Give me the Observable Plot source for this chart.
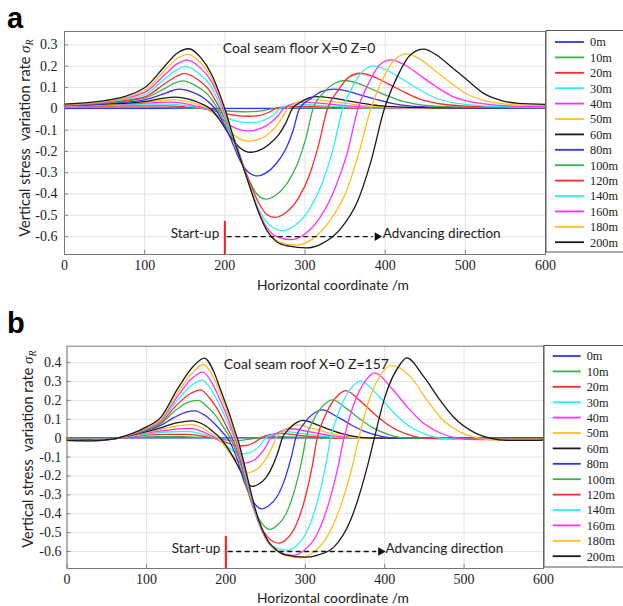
<!DOCTYPE html>
<html><head><meta charset="utf-8">
<script src="https://cdn.jsdelivr.net/npm/d3@7"></script>
<script src="https://cdn.jsdelivr.net/npm/@observablehq/plot@0.6"></script>
<style>
body{margin:0;background:#fff;}
#wrap{position:relative;width:623px;height:606px;overflow:hidden;background:#fff;}
#wrap svg{position:absolute;left:0;}
</style></head>
<body><div id="wrap"></div>
<script>
const series = ["0m","10m","20m","30m","40m","50m","60m","80m","100m","120m","140m","160m","180m","200m"];
const colors = ["#3030ff","#3cb04a","#ff2a2a","#2ff0f0","#ff30ff","#ffbe22","#1a1a1a","#3030ff","#3cb04a","#ff2a2a","#2ff0f0","#ff30ff","#ffbe22","#1a1a1a"];
const xTicks = [0,100,200,300,400,500,600];
const yTicksA = [0.3,0.2,0.1,0,-0.1,-0.2,-0.3,-0.4,-0.5,-0.6];
const yTicksB = [0.4,0.3,0.2,0.1,0,-0.1,-0.2,-0.3,-0.4,-0.5,-0.6];

// Panel a: coal seam floor (x in m, variation rate)
const a_0m = [[0,0.002],[300,0.002],[600,0.002]];
const a_10m = [[0,0.008],[50,0.008],[100,0.007],[120,0.007],[150,0.005],[178,0],[200,-0.009],[228,-0.014],[245,-0.01],[258,0],[275,0.004],[300,0.004],[350,0.003],[600,0.002]];
const a_20m = [[0,0.011],[50,0.013],[100,0.014],[125,0.014],[150,0.009],[175,0],[195,-0.018],[213,-0.031],[231,-0.035],[242,-0.032],[251,-0.022],[258,-0.01],[262,0],[270,0.007],[280,0.012],[300,0.011],[330,0.008],[370,0.005],[600,0.002]];
const a_30m = [[0,0.012],[50,0.016],[100,0.022],[130,0.022],[150,0.016],[165,0.008],[176,0],[195,-0.03],[212,-0.056],[230,-0.065],[240,-0.062],[250,-0.052],[258,-0.036],[264,-0.018],[268,0],[275,0.011],[281,0.018],[287,0.021],[305,0.019],[325,0.014],[350,0.009],[380,0.005],[600,0.003]];
const a_40m = [[0,0.013],[50,0.018],[100,0.027],[120,0.03],[133,0.031],[150,0.024],[165,0.012],[178,0],[195,-0.045],[210,-0.085],[229,-0.104],[238,-0.1],[249,-0.085],[258,-0.062],[266,-0.034],[273,0],[281,0.017],[288,0.027],[296,0.031],[313,0.028],[330,0.022],[350,0.015],[372,0.009],[400,0.005],[600,0.003]];
const a_50m = [[0,0.014],[50,0.02],[100,0.031],[120,0.039],[137,0.043],[155,0.033],[168,0.018],[180,0],[195,-0.055],[208,-0.11],[218,-0.14],[230,-0.152],[240,-0.146],[252,-0.125],[262,-0.091],[270,-0.05],[278,0],[287,0.024],[296,0.039],[305,0.044],[322,0.04],[340,0.031],[360,0.021],[382,0.012],[405,0.007],[450,0.004],[600,0.003]];
const a_60m = [[0,0.015],[50,0.022],[100,0.034],[120,0.048],[139,0.055],[155,0.045],[170,0.025],[182,0],[195,-0.06],[205,-0.12],[218,-0.18],[232,-0.204],[242,-0.196],[255,-0.167],[267,-0.122],[276,-0.067],[284,0],[295,0.032],[305,0.051],[316,0.057],[333,0.051],[350,0.04],[370,0.027],[392,0.015],[415,0.009],[460,0.005],[530,0.003],[600,0.003]];
const a_80m = [[0,0.016],[50,0.025],[100,0.042],[122,0.068],[135,0.086],[143,0.092],[160,0.077],[174,0.05],[185,0.013],[188,0],[205,-0.12],[220,-0.25],[232,-0.305],[241,-0.315],[251,-0.302],[264,-0.258],[276,-0.189],[285,-0.104],[293,0],[308,0.05],[322,0.083],[337,0.092],[353,0.083],[370,0.064],[390,0.043],[410,0.024],[430,0.014],[470,0.007],[530,0.004],[600,0.003]];
const a_100m = [[0,0.017],[50,0.027],[100,0.05],[125,0.095],[138,0.122],[147,0.131],[164,0.108],[178,0.07],[188,0.02],[191,0],[210,-0.14],[226,-0.3],[240,-0.4],[251,-0.424],[263,-0.407],[278,-0.348],[291,-0.254],[301,-0.14],[310,0],[323,0.075],[337,0.12],[350,0.133],[366,0.12],[383,0.093],[402,0.062],[422,0.035],[443,0.02],[480,0.01],[540,0.006],[600,0.005]];
const a_120m = [[0,0.018],[50,0.029],[100,0.056],[125,0.118],[140,0.153],[149,0.166],[166,0.138],[180,0.09],[190,0.028],[194,0],[212,-0.145],[228,-0.315],[242,-0.44],[252,-0.495],[262,-0.51],[275,-0.49],[292,-0.418],[306,-0.306],[317,-0.168],[328,0],[342,0.09],[355,0.15],[369,0.167],[386,0.15],[404,0.117],[424,0.078],[445,0.043],[466,0.025],[500,0.013],[550,0.008],[600,0.006]];
const a_140m = [[0,0.019],[50,0.031],[100,0.066],[125,0.14],[140,0.183],[151,0.199],[168,0.165],[182,0.11],[192,0.035],[196,0],[212,-0.148],[228,-0.325],[241,-0.46],[254,-0.54],[272,-0.572],[287,-0.549],[306,-0.469],[322,-0.343],[335,-0.189],[347,0],[360,0.108],[373,0.18],[386,0.2],[403,0.18],[421,0.14],[441,0.094],[462,0.052],[483,0.03],[510,0.017],[550,0.01],[600,0.008]];
const a_160m = [[0,0.02],[50,0.033],[100,0.077],[125,0.16],[140,0.21],[153,0.229],[170,0.19],[183,0.13],[194,0.04],[198,0],[212,-0.15],[228,-0.33],[241,-0.47],[253,-0.56],[265,-0.6],[282,-0.614],[299,-0.59],[320,-0.503],[338,-0.368],[353,-0.203],[366,0],[380,0.125],[393,0.206],[407,0.23],[424,0.207],[442,0.161],[462,0.108],[483,0.06],[504,0.035],[530,0.02],[560,0.013],[600,0.011]];
const a_180m = [[0,0.021],[50,0.035],[100,0.086],[125,0.18],[140,0.235],[154,0.256],[170,0.215],[183,0.148],[195,0.045],[199,0],[212,-0.15],[228,-0.33],[241,-0.472],[253,-0.57],[265,-0.62],[278,-0.637],[290,-0.64],[308,-0.614],[331,-0.525],[352,-0.384],[367,-0.21],[382,0],[397,0.14],[412,0.232],[427,0.258],[444,0.232],[462,0.18],[482,0.121],[503,0.067],[524,0.039],[545,0.025],[570,0.018],[600,0.016]];
const a_200m = [[0,0.022],[50,0.038],[100,0.099],[125,0.2],[140,0.26],[155,0.282],[170,0.24],[183,0.165],[195,0.055],[200,0],[212,-0.15],[228,-0.33],[241,-0.475],[253,-0.575],[265,-0.625],[280,-0.645],[301,-0.653],[320,-0.635],[345,-0.56],[366,-0.43],[382,-0.25],[399,0],[415,0.15],[432,0.255],[448,0.28],[465,0.25],[483,0.195],[503,0.133],[524,0.07],[545,0.039],[566,0.026],[600,0.021]];

// Panel b: coal seam roof
const b_0m = [[0,0.002],[300,0.002],[600,0.002]];
const b_10m = [[0,-0.004],[30,-0.005],[60,-0.001],[80,0.003],[100,0.007],[145,0.008],[180,0],[195,-0.007],[210,-0.013],[225,-0.008],[238,0],[250,0.007],[260,0.01],[280,0.007],[300,0.004],[330,0.001],[600,0]];
const b_20m = [[0,-0.005],[30,-0.006],[60,-0.001],[80,0.007],[100,0.016],[125,0.02],[150,0.02],[166,0.014],[185,0],[200,-0.022],[216,-0.042],[222,-0.04],[228.6,-0.035],[235.6,-0.023],[240.6,-0.01],[244,0],[251,0.013],[262,0.023],[268,0.025],[285,0.019],[302,0.011],[320,0.005],[345,0.001],[600,0]];
const b_30m = [[0,-0.006],[30,-0.007],[60,-0.001],[80,0.009],[100,0.022],[118,0.03],[135,0.034],[152,0.036],[168,0.024],[180,0.008],[186,0],[198,-0.03],[210,-0.07],[220.6,-0.083],[226.5,-0.08],[233.8,-0.069],[241.2,-0.046],[246.5,-0.021],[250,0],[257.5,0.017],[268.8,0.032],[275,0.035],[292,0.027],[310,0.016],[325,0.009],[345,0.003],[365,0],[600,0]];
const b_40m = [[0,-0.006],[30,-0.008],[60,-0.002],[80,0.011],[100,0.027],[118,0.038],[135,0.047],[155,0.052],[170,0.036],[182,0.012],[188,0],[200,-0.045],[212,-0.11],[222.7,-0.132],[229.4,-0.127],[237.7,-0.11],[246,-0.073],[252,-0.033],[256,0],[264,0.025],[276,0.046],[283,0.05],[300,0.038],[318,0.024],[333,0.013],[355,0.004],[375,0],[600,0]];
const b_50m = [[0,-0.007],[30,-0.009],[60,-0.002],[80,0.013],[100,0.031],[118,0.047],[135,0.062],[156,0.072],[172,0.05],[183,0.02],[190,0],[202,-0.06],[213,-0.13],[219,-0.17],[225,-0.185],[232.6,-0.178],[242.1,-0.154],[251.6,-0.102],[258.4,-0.046],[263,0],[271,0.035],[283,0.064],[290,0.07],[308,0.053],[325,0.033],[340,0.018],[360,0.005],[380,0],[600,0]];
const b_60m = [[0,-0.008],[30,-0.01],[60,-0.002],[80,0.015],[100,0.035],[118,0.055],[135,0.078],[157,0.092],[174,0.067],[185,0.03],[193,0],[205,-0.07],[216,-0.153],[225,-0.225],[233,-0.255],[240.6,-0.245],[250.1,-0.212],[259.6,-0.14],[266.4,-0.064],[271,0],[278.8,0.046],[290.5,0.086],[297,0.094],[315,0.071],[332,0.044],[346,0.024],[365,0.007],[385,0],[600,0]];
const b_80m = [[0,-0.009],[30,-0.011],[60,-0.002],[80,0.016],[100,0.04],[118,0.068],[135,0.11],[150,0.138],[161,0.145],[174,0.12],[185,0.08],[196,0.03],[202,0],[208,-0.045],[215,-0.12],[223,-0.23],[231,-0.31],[239,-0.36],[245,-0.374],[253.6,-0.359],[264.4,-0.31],[275.1,-0.206],[282.8,-0.094],[288,0],[298,0.075],[313,0.137],[321.4,0.15],[340,0.114],[358,0.07],[373,0.039],[395,0.011],[415,0],[600,0]];
const b_100m = [[0,-0.01],[30,-0.012],[60,-0.003],[80,0.017],[100,0.043],[118,0.076],[136,0.145],[152,0.19],[165,0.2],[177,0.165],[188,0.115],[199,0.045],[205,0.005],[210,-0.04],[217,-0.115],[225,-0.24],[233,-0.35],[242,-0.43],[255,-0.483],[264.2,-0.464],[275.7,-0.401],[287.2,-0.266],[295.5,-0.121],[301,0],[310.9,0.1],[325.8,0.185],[334,0.203],[353,0.154],[371,0.095],[386,0.053],[408,0.015],[428,0],[600,-0.002]];
const b_120m = [[0,-0.011],[30,-0.013],[60,-0.003],[80,0.018],[100,0.047],[118,0.083],[138,0.175],[155,0.235],[168,0.256],[180,0.21],[190,0.15],[201,0.06],[207,0.01],[212,-0.04],[218,-0.11],[226,-0.24],[234,-0.36],[243,-0.46],[252,-0.52],[266.7,-0.556],[276.4,-0.534],[288.4,-0.461],[300.5,-0.306],[309.2,-0.139],[315,0],[325.7,0.125],[341.9,0.23],[350.8,0.252],[371,0.19],[390,0.118],[406,0.066],[430,0.019],[450,0],[480,-0.004],[600,-0.004]];
const b_140m = [[0,-0.011],[30,-0.013],[60,-0.003],[80,0.019],[100,0.05],[118,0.09],[139,0.2],[157,0.28],[170,0.307],[182,0.255],[191,0.185],[203,0.075],[209,0.015],[213,-0.03],[219,-0.105],[227,-0.24],[235,-0.37],[244,-0.48],[252,-0.54],[262,-0.58],[278,-0.594],[288.8,-0.57],[302.3,-0.493],[315.8,-0.327],[325.5,-0.149],[332,0],[343.3,0.15],[360.2,0.277],[369.6,0.302],[391,0.23],[410,0.142],[426,0.079],[450,0.023],[470,0],[495,-0.006],[600,-0.006]];
const b_160m = [[0,-0.012],[30,-0.013],[60,-0.003],[80,0.019],[100,0.053],[118,0.095],[139,0.22],[158,0.32],[171,0.35],[183,0.29],[192,0.21],[204,0.09],[210,0.02],[214,-0.03],[220,-0.105],[228,-0.24],[236,-0.375],[245,-0.485],[253,-0.55],[262,-0.59],[273,-0.612],[285.6,-0.62],[298.2,-0.595],[314,-0.515],[329.8,-0.341],[341.1,-0.155],[348.7,0],[360.3,0.17],[377.7,0.315],[387.3,0.346],[409,0.263],[429,0.163],[446,0.09],[471,0.026],[492,0],[515,-0.008],[600,-0.008]];
const b_180m = [[0,-0.012],[30,-0.013],[60,-0.003],[80,0.02],[100,0.056],[118,0.1],[139,0.24],[160,0.355],[172,0.39],[184,0.325],[193,0.235],[205,0.1],[211,0.025],[215,-0.025],[221,-0.105],[229,-0.245],[237,-0.38],[246,-0.49],[254,-0.555],[262,-0.59],[275,-0.622],[294,-0.633],[308.7,-0.608],[327,-0.525],[345.5,-0.348],[358.7,-0.158],[367.5,0],[379.5,0.19],[397.4,0.35],[407.4,0.385],[433,0.323],[453.6,0.2],[470,0.111],[495.6,0.032],[518,0],[540,-0.01],[600,-0.01]];
const b_200m = [[0,-0.012],[30,-0.014],[60,-0.003],[80,0.021],[100,0.06],[118,0.11],[139,0.26],[160,0.385],[173,0.424],[185,0.35],[193,0.26],[206,0.11],[212,0.03],[216,-0.02],[221,-0.1],[229,-0.24],[237,-0.375],[246,-0.485],[254,-0.55],[262,-0.585],[275,-0.618],[300,-0.63],[315,-0.62],[336,-0.577],[357,-0.435],[378,-0.153],[387,0],[399,0.2],[420,0.394],[427.6,0.425],[449.7,0.323],[470,0.2],[487,0.111],[512,0.032],[533,0],[554,-0.012],[588,-0.012],[600,-0.01]];

const floorSeries = [a_0m,a_10m,a_20m,a_30m,a_40m,a_50m,a_60m,a_80m,a_100m,a_120m,a_140m,a_160m,a_180m,a_200m];
const roofSeries = [b_0m,b_10m,b_20m,b_30m,b_40m,b_50m,b_60m,b_80m,b_100m,b_120m,b_140m,b_160m,b_180m,b_200m];

function toRows(list){
  const rows=[];
  list.forEach((pts,i)=>pts.forEach(([x,v])=>rows.push({s:series[i],x,v})));
  return rows;
}

const SERIF = "'Liberation Serif', 'Times New Roman', Times, 'DejaVu Serif', serif";
const SANS = "Lato, 'Open Sans', sans-serif";
const wrap = document.getElementById("wrap");
const fmtY = d => d===0 ? "0" : d.toFixed(1);

function panel(cfg){
  const rows = toRows(cfg.data);
  const y0 = cfg.ydom[0];
  const svg = Plot.plot({
    width:623, height:303,
    marginLeft:cfg.ml, marginRight:cfg.mr, marginTop:cfg.mt, marginBottom:cfg.mb,
    style:{fontFamily:SERIF, fontSize:"14px", color:"#222", background:"transparent"},
    x:{domain:[0,600], ticks:xTicks, tickFormat:d=>String(d), tickSize:0, tickPadding:cfg.xpad, label:null},
    y:{domain:cfg.ydom, ticks:cfg.yTicks, tickFormat:fmtY, tickSize:0, tickPadding:cfg.ypad, label:null},
    color:{domain:series, range:colors},
    marks:[
      Plot.gridX(xTicks,{stroke:"#e3e3e3", strokeOpacity:1}),
      Plot.gridY(cfg.yTicks,{stroke:"#e3e3e3", strokeOpacity:1}),
      Plot.ruleX(xTicks,{y1:y0, y2:y0+cfg.tickLen, stroke:"#888", strokeWidth:1}),
      Plot.ruleY(cfg.yTicks,{x1:0, x2:5, stroke:"#888", strokeWidth:1}),
      Plot.line(rows,{x:"x", y:"v", z:"s", stroke:"s", curve:"monotone-x", strokeWidth:1.3}),
      Plot.ruleX([200],{y1:cfg.redTop, y2:y0, stroke:"#ff1a1a", strokeWidth:2}),
      Plot.ruleY([-0.6],{x1:203, x2:cfg.arrowEnd-5, stroke:"#111", strokeWidth:1.3, strokeDasharray:"5,3.5"}),
      Plot.dot([{x:cfg.arrowEnd, y:-0.6}],{x:"x", y:"y", symbol:"triangle", rotate:90, r:3.2, fill:"#111", stroke:null}),
      Plot.text([{x:193, y:cfg.startY, t:"Start-up"}],{x:"x", y:"y", text:"t", textAnchor:"end", fontFamily:SANS, fontSize:13.5, fill:"#222"}),
      Plot.text([{x:cfg.advX, y:cfg.startY, t:"Advancing direction"}],{x:"x", y:"y", text:"t", textAnchor:"start", fontFamily:SANS, fontSize:13.5, fill:"#222"}),
      Plot.text([{x:197.5, y:cfg.titleY, t:cfg.title}],{x:"x", y:"y", text:"t", textAnchor:"start", fontFamily:SANS, fontSize:14, fill:"#222"}),
      Plot.frame({stroke:"#777"})
    ]
  });
  svg.style.top = cfg.top + "px";
  const s = d3.select(svg);
  s.attr("font-family", SERIF).style("font-family", SERIF);
  s.selectAll("g[aria-label$='tick label']").attr("font-family", SERIF);
  // panel letter
  s.append("text").attr("x",cfg.letterX).attr("y",cfg.letterY).attr("text-anchor","start")
    .attr("font-family","'Liberation Sans', Arial, sans-serif")
    .attr("font-weight","bold").attr("font-size",29).attr("fill","#000").text(cfg.letter);
  // x title
  s.append("text").attr("x",333).attr("y",cfg.xTitleY).attr("text-anchor","middle").attr("font-family",SANS)
    .attr("font-size",13.8).attr("fill","#222").text("Horizontal coordinate /m");
  // y title
  const yt = s.append("text").attr("transform",`translate(${cfg.yTitleX},${cfg.yTitleY}) rotate(-90)`)
    .attr("text-anchor","middle").attr("font-family",SANS).attr("font-size",14.5).attr("fill","#222").style("white-space","pre");
  yt.append("tspan").text("Vertical stress  variation rate ");
  yt.append("tspan").attr("font-family",SERIF).attr("font-style","italic").attr("font-size",15).text("σ");
  yt.append("tspan").attr("font-family",SERIF).attr("font-style","italic").attr("font-size",10).attr("dy",3).text("R");
  // legend
  const lg = s.append("g");
  lg.append("rect").attr("x",cfg.lgX).attr("y",cfg.lgY).attr("width",90).attr("height",cfg.lgH)
    .attr("fill","#fff").attr("stroke","#555").attr("stroke-width",1);
  series.forEach((name,i)=>{
    const cy = cfg.lgRow0 + i*15.4;
    lg.append("line").attr("x1",cfg.swX1).attr("x2",cfg.swX2).attr("y1",cy).attr("y2",cy)
      .attr("stroke",colors[i]).attr("stroke-width",1.8);
    lg.append("text").attr("x",cfg.swX2+6).attr("y",cy).attr("dy","0.35em").attr("text-anchor","start")
      .attr("font-family",SERIF).attr("font-size",12.3).attr("fill","#222").text(name);
  });
  wrap.appendChild(svg);
}

panel({data:floorSeries, top:0, ml:64, mr:78, mt:31, mb:49, ydom:[-0.684,0.363], yTicks:yTicksA, tickLen:0.02,
  xpad:6, ypad:7, redTop:-0.528, arrowEnd:390, advX:397, startY:-0.585, titleY:0.283,
  title:"Coal seam floor X=0 Z=0", letter:"a", letterX:7, letterY:28, xTitleY:289.5, yTitleX:29.5, yTitleY:138,
  lgX:546, lgY:30.5, lgH:221.5, lgRow0:42, swX1:555, swX2:584});

panel({data:roofSeries, top:303, ml:66.5, mr:80, mt:42.7, mb:38, ydom:[-0.69,0.487], yTicks:yTicksB, tickLen:0.022,
  xpad:6, ypad:5.5, redTop:-0.52, arrowEnd:395, advX:401, startY:-0.585, titleY:0.388,
  title:"Coal seam roof X=0 Z=157", letter:"b", letterX:7, letterY:30, xTitleY:300, yTitleX:33, yTitleY:146,
  lgX:544, lgY:42.5, lgH:221.5, lgRow0:53, swX1:552.7, swX2:580.7});
</script></body></html>
